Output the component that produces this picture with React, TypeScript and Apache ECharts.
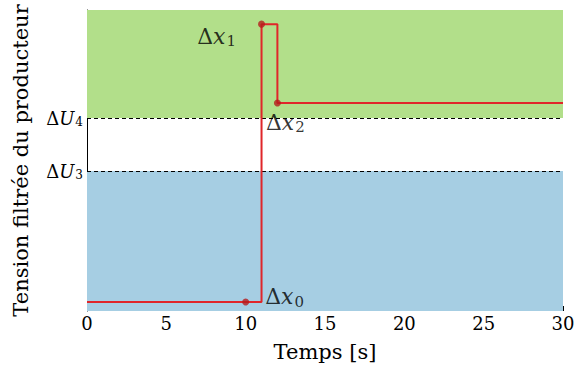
import React, { useEffect, useRef } from "react";
import * as echarts from "echarts";

const xTicks = [0, 5, 10, 15, 20, 25, 30];
const stepTimes = [0, 10, 11, 11, 12, 12, 30];
const stepValues = [3, 3, 3, 95.3, 95.3, 69.1, 69.1];
const markerTimes = [10, 11, 12];
const markerValues = [3, 95.3, 69.1];
const markerNames = ["0", "1", "2"];
const thresholdU3 = 46.5;
const thresholdU4 = 64.1;
const yMin = 0;
const yMax = 100;

const FONT = "DejaVu Serif";

const deltaRich = (size: number, sub: number) => ({
  d: { fontFamily: FONT, fontSize: size, color: "#000" },
  v: { fontFamily: FONT, fontSize: size, fontStyle: "italic", color: "#000" },
  s: { fontFamily: FONT, fontSize: sub, color: "#000", padding: [Math.round(size * 0.45), 0, 0, 1] },
});

export default function App() {
  const ref = useRef<HTMLDivElement>(null);
  useEffect(() => {
    if (!ref.current) return;
    const chart = echarts.init(ref.current, null, { renderer: "svg" });
    const labelPos: any[] = [
      { position: "right", distance: 16, offset: [0, -5] },
      { position: "left", distance: 22, offset: [0, 12] },
      { position: "bottom", distance: 3, offset: [8, 0] },
    ];
    chart.setOption({
      animation: false,
      textStyle: { fontFamily: FONT },
      grid: { left: 87, right: 20, top: 10, bottom: 57 },
      xAxis: {
        type: "value",
        min: xTicks[0],
        max: xTicks[xTicks.length - 1],
        interval: 5,
        name: "Temps [s]",
        nameLocation: "middle",
        nameGap: 30,
        nameTextStyle: { fontFamily: FONT, fontSize: 21, color: "#000" },
        axisLine: { show: false },
        axisTick: { show: true, inside: true, length: 5, lineStyle: { color: "#000" } },
        splitLine: { show: false },
        axisLabel: { fontFamily: FONT, fontSize: 18, color: "#000", margin: 3 },
      },
      yAxis: {
        type: "value",
        min: yMin,
        max: yMax,
        name: "Tension filtrée du producteur",
        nameLocation: "middle",
        nameGap: 56,
        nameTextStyle: { fontFamily: FONT, fontSize: 21, color: "#000" },
        axisLine: { show: true, lineStyle: { color: "#000", width: 1 } },
        axisTick: { show: false },
        axisLabel: { show: false },
        splitLine: { show: false },
      },
      series: [
        {
          type: "line",
          data: stepTimes.map((t, i) => [t, stepValues[i]]),
          symbol: "none",
          lineStyle: { color: "#e0262a", width: 2 },
          z: 5,
          markArea: {
            silent: true,
            data: [
              [
                { yAxis: thresholdU4, itemStyle: { color: "#b2df8a", opacity: 1 } },
                { yAxis: yMax },
              ],
              [
                { yAxis: yMin, itemStyle: { color: "#a6cee3", opacity: 1 } },
                { yAxis: thresholdU3 },
              ],
            ],
          },
          markLine: {
            silent: true,
            symbol: "none",
            lineStyle: { color: "#000", type: [4, 3], width: 1 },
            label: {
              position: "start",
              distance: 4,
              formatter: (p: any) => `{d|Δ}{v|U}{s|${p.name}}`,
              rich: deltaRich(18, 12),
            },
            data: [
              { yAxis: thresholdU4, name: "4" },
              { yAxis: thresholdU3, name: "3" },
            ],
          },
        },
        {
          type: "scatter",
          data: markerTimes.map((t, i) => ({
            value: [t, markerValues[i]],
            name: markerNames[i],
            label: { show: true, ...labelPos[i] },
          })),
          symbolSize: 7,
          itemStyle: { color: "#b51c1c" },
          z: 6,
          label: {
            formatter: (p: any) => `{d|Δ}{v|x}{s|${p.name}}`,
            rich: deltaRich(22, 15),
          },
        },
      ],
    });
    return () => chart.dispose();
  }, []);
  return <div ref={ref} style={{ width: 583, height: 368, position: "absolute", left: 0, top: 0 }} />;
}
